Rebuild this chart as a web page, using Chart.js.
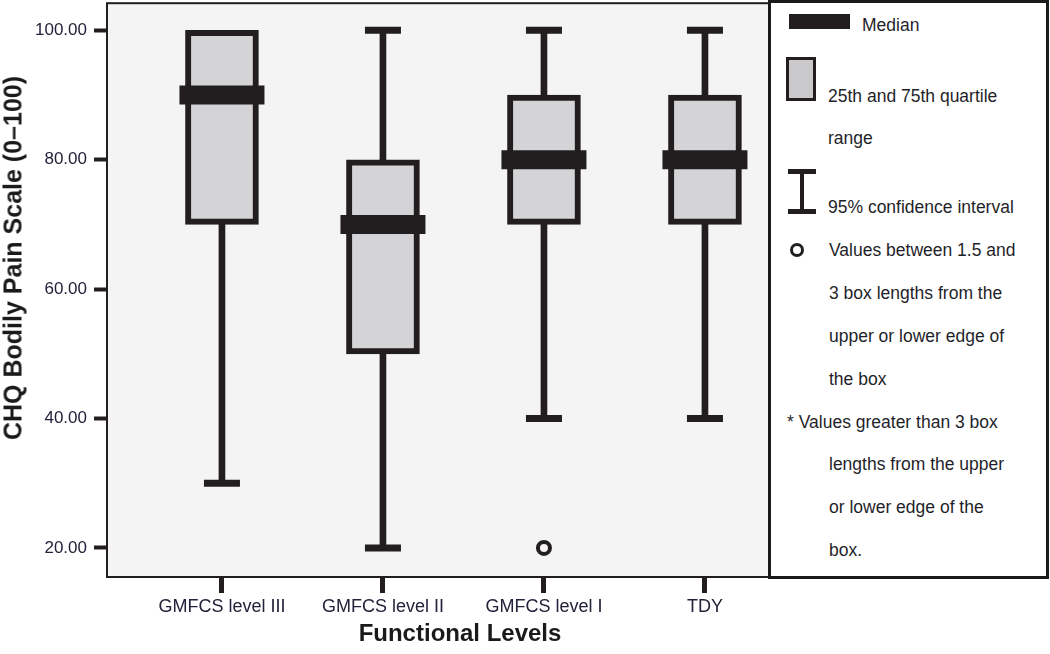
<!DOCTYPE html>
<html>
<head>
<meta charset="utf-8">
<script src="https://cdn.jsdelivr.net/npm/chart.js@4.4.1/dist/chart.umd.min.js"></script>
<style>
  body { margin: 0; background: #fff; font-family: Arial, "Liberation Sans", sans-serif; }
  #wrap { position: relative; width: 1050px; height: 654px; overflow: hidden; }
  #chartBox { position: absolute; left: 0; top: -14px; width: 772px; height: 668px; }
  .axisTitle { position: absolute; white-space: nowrap; font-weight: bold; color: #1a1a1a; }
  #yTitle { left: 13px; top: 258px; font-size: 25px; transform: translate(-50%, -50%) rotate(-90deg); }
  #xTitle { left: 460px; top: 633px; font-size: 24px; transform: translate(-50%, -50%); }
  #legend { position: absolute; left: 768px; top: 0; width: 281px; height: 579px; box-sizing: border-box;
            border: 3px solid #1a1a1a; background: #fff; }
  #legend .txt { position: absolute; font-size: 17.5px; line-height: 20px; color: #1f1f2a; white-space: nowrap; }
  #legend .ico { position: absolute; background: #221e1f; }
</style>
</head>
<body>
<div id="wrap">
  <div id="chartBox"><canvas id="chartBoxplot"></canvas></div>
  <div class="axisTitle" id="yTitle">CHQ Bodily Pain Scale (0–100)</div>
  <div class="axisTitle" id="xTitle">Functional Levels</div>
  <div id="legend">
    <div class="ico" style="left:18px;top:11px;width:61px;height:15px;"></div>
    <div class="txt" style="left:91px;top:12px;">Median</div>

    <div class="ico" style="left:15px;top:54px;width:30px;height:44px;box-sizing:border-box;border:3px solid #221e1f;background:#c9c9cb;"></div>
    <div class="txt" style="left:57px;top:83px;">25th and 75th quartile</div>
    <div class="txt" style="left:57px;top:125px;">range</div>

    <div class="ico" style="left:17px;top:166px;width:28px;height:5px;"></div>
    <div class="ico" style="left:29px;top:170px;width:4px;height:38px;"></div>
    <div class="ico" style="left:17px;top:206px;width:28px;height:5px;"></div>
    <div class="txt" style="left:57px;top:194px;">95% confidence interval</div>

    <div style="position:absolute;left:19px;top:240px;width:14px;height:14px;box-sizing:border-box;border:3px solid #221e1f;border-radius:50%;"></div>
    <div class="txt" style="left:58px;top:237px;">Values between 1.5 and</div>
    <div class="txt" style="left:58px;top:280px;">3 box lengths from the</div>
    <div class="txt" style="left:58px;top:323px;">upper or lower edge of</div>
    <div class="txt" style="left:58px;top:366px;">the box</div>

    <div class="txt" style="left:16px;top:409px;">* Values greater than 3 box</div>
    <div class="txt" style="left:58px;top:451px;">lengths from the upper</div>
    <div class="txt" style="left:58px;top:494px;">or lower edge of the</div>
    <div class="txt" style="left:58px;top:537px;">box.</div>
  </div>
</div>
<script>
const categories = ['GMFCS level III', 'GMFCS level II', 'GMFCS level I', 'TDY'];
const q1 = [70, 50, 70, 70];
const medians = [90, 70, 80, 80];
const q3 = [100, 80, 90, 90];
const whiskerLow = [30, 20, 40, 40];
const whiskerHigh = [100, 100, 100, 100];
const outlierCategories = ['GMFCS level I'];
const outlierValues = [20];
const yTicks = [20, 40, 60, 80, 100];

const INK = '#221e1f';
const pos = i => i + 1;

const boxData = categories.map((c, i) => ({ x: pos(i), y: [q1[i], q3[i]] }));
const whiskerData = categories.map((c, i) => ({ x: pos(i), y: [whiskerLow[i], whiskerHigh[i]] }));
const medianData = categories.map((c, i) => ({ x: pos(i), y: medians[i] }));

// caps only where the whisker reaches past the box
const capData = [];
categories.forEach((c, i) => {
  if (whiskerLow[i] < q1[i]) capData.push({ x: pos(i), y: whiskerLow[i] });
  if (whiskerHigh[i] > q3[i]) capData.push({ x: pos(i), y: whiskerHigh[i] });
});

const outlierData = outlierCategories.map((c, k) => ({ x: pos(categories.indexOf(c)), y: outlierValues[k] }));

const plotFrame = {
  id: 'plotFrame',
  beforeDraw(chart) {
    const { ctx, chartArea: a } = chart;
    ctx.save();
    ctx.fillStyle = '#f4f4f4';
    ctx.fillRect(a.left, a.top, a.right - a.left, a.bottom - a.top);
    ctx.restore();
  },
  afterDraw(chart) {
    const { ctx, chartArea: a } = chart;
    ctx.save();
    ctx.strokeStyle = INK;
    ctx.lineWidth = 2;
    ctx.strokeRect(a.left, a.top, a.right - a.left, a.bottom - a.top);
    ctx.restore();
  }
};

new Chart(document.getElementById('chartBoxplot'), {
  type: 'bar',
  data: {
    datasets: [
      {
        type: 'scatter',
        label: 'Outliers',
        data: outlierData,
        pointStyle: 'circle',
        pointRadius: 6,
        pointBorderWidth: 4,
        pointBorderColor: INK,
        pointBackgroundColor: '#f4f4f4',
        order: 0
      },
      {
        type: 'scatter',
        label: 'Median',
        data: medianData,
        pointStyle: 'line',
        pointRadius: 42.5,
        pointBorderWidth: 19,
        pointBorderColor: INK,
        order: 1
      },
      {
        type: 'scatter',
        label: 'Caps',
        data: capData,
        pointStyle: 'line',
        pointRadius: 18,
        pointBorderWidth: 7,
        pointBorderColor: INK,
        order: 1
      },
      {
        label: 'Quartiles',
        data: boxData,
        backgroundColor: '#d4d4d6',
        borderColor: INK,
        borderWidth: 6,
        borderSkipped: false,
        barThickness: 73,
        grouped: false,
        order: 2
      },
      {
        label: 'Whiskers',
        data: whiskerData,
        backgroundColor: INK,
        borderWidth: 0,
        barThickness: 6,
        grouped: false,
        order: 3
      }
    ]
  },
  options: {
    responsive: true,
    maintainAspectRatio: false,
    animation: false,
    events: [],
    layout: { autoPadding: false, padding: { top: 3, right: 2, left: 0, bottom: 0 } },
    plugins: {
      legend: { display: false },
      tooltip: { enabled: false }
    },
    scales: {
      x: {
        type: 'linear',
        offset: false,
        min: 0.286,
        max: 4.404,
        afterBuildTicks: scale => { scale.ticks = categories.map((c, i) => ({ value: pos(i) })); },
        afterFit: scale => { scale.height = 77; },
        border: { display: false },
        grid: { offset: false, drawOnChartArea: false, drawTicks: true, tickLength: 16, tickWidth: 5, tickColor: INK },
        ticks: {
          padding: 3,
          autoSkip: false,
          maxRotation: 0,
          color: '#22223a',
          font: { family: 'Arial, "Liberation Sans", sans-serif', size: 18 },
          callback: value => categories[value - 1] ?? ''
        }
      },
      y: {
        min: 15.5,
        max: 104.2,
        afterBuildTicks: scale => { scale.ticks = yTicks.map(v => ({ value: v })); },
        afterFit: scale => { scale.width = 107; },
        border: { display: false },
        grid: { drawOnChartArea: false, drawTicks: true, tickLength: 13, tickWidth: 4, tickColor: INK },
        ticks: {
          padding: 7,
          color: '#22223a',
          font: { family: 'Arial, "Liberation Sans", sans-serif', size: 17 },
          callback: value => Number(value).toFixed(2)
        }
      }
    }
  },
  plugins: [plotFrame]
});
</script>
</body>
</html>
